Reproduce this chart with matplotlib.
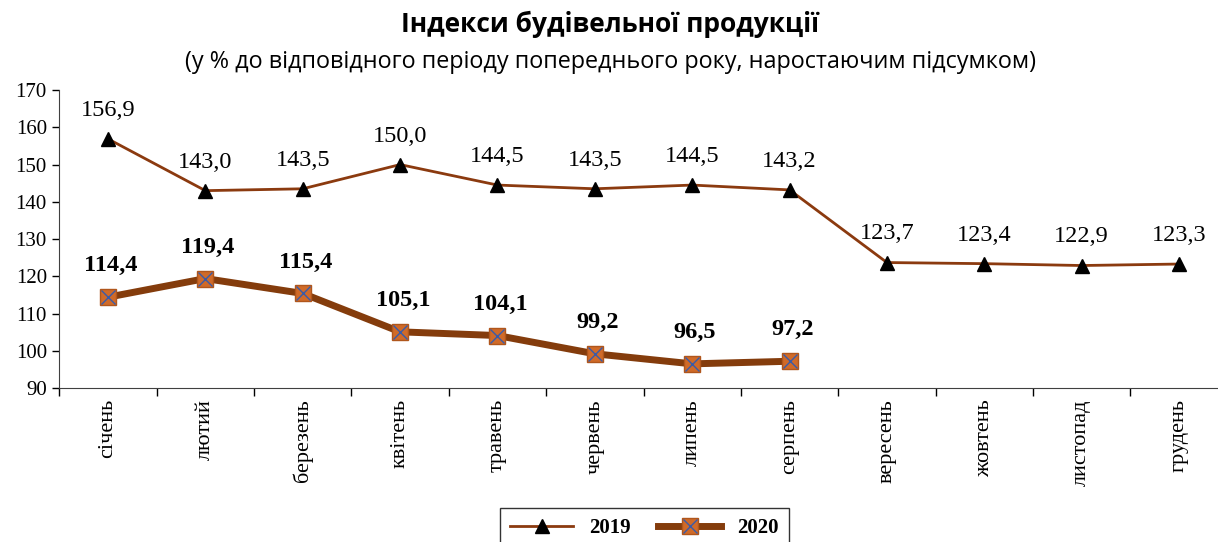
import matplotlib
matplotlib.use("Agg")
import matplotlib.pyplot as plt
from matplotlib.lines import Line2D

# дані
misyatsi = ['січень', 'лютий', 'березень', 'квітень', 'травень', 'червень',
            'липень', 'серпень', 'вересень', 'жовтень', 'листопад', 'грудень']
znach_2019 = [156.9, 143.0, 143.5, 150.0, 144.5, 143.5, 144.5, 143.2,
              123.7, 123.4, 122.9, 123.3]
znach_2020 = [114.4, 119.4, 115.4, 105.1, 104.1, 99.2, 96.5, 97.2]
y_ticks = [90, 100, 110, 120, 130, 140, 150, 160, 170]

serif = ['Liberation Serif', 'DejaVu Serif']
sans = ['Open Sans', 'DejaVu Sans']

fig = plt.figure(figsize=(12.18, 5.42), dpi=100)
ax = fig.add_axes([0.0487, 0.284, 0.9593, 0.5498])

x19 = list(range(len(znach_2019)))
x20 = list(range(len(znach_2020)))

ax.plot(x19, znach_2019, color='#8B3A0F', lw=2, marker='^', ms=10,
        mfc='black', mec='black', zorder=3)
ax.plot(x20, znach_2020, color='#843C0C', lw=5, zorder=3)
ax.plot(x20, znach_2020, ls='none', marker='s', ms=12, mfc='#D06A28',
        mec='#B0561C', mew=1, zorder=4)
ax.plot(x20, znach_2020, ls='none', marker='x', ms=10, mec='#3A5BA8',
        mew=1, zorder=5)

for x, v in zip(x19, znach_2019):
    ax.annotate(f'{v:.1f}'.replace('.', ','), (x, v), xytext=(0, 13),
                textcoords='offset points', ha='center', va='bottom',
                fontsize=17.5, family=serif)
for x, v in zip(x20, znach_2020):
    ax.annotate(f'{v:.1f}'.replace('.', ','), (x, v), xytext=(2, 15),
                textcoords='offset points', ha='center', va='bottom',
                fontsize=17.5, fontweight='bold', family=serif)

ax.set_xlim(-0.5, 11.5)
ax.set_ylim(90, 170)
ax.set_yticks(y_ticks)
ax.set_yticklabels([str(t) for t in y_ticks], fontsize=15, family=serif)
ax.tick_params(axis='y', direction='out', length=5, width=1, pad=4)

ax.set_xticks([i - 0.5 for i in range(13)])
ax.set_xticklabels([])
ax.set_xticks(x19, minor=True)
ax.set_xticklabels(misyatsi, minor=True, rotation=90, fontsize=16, family=serif)
ax.tick_params(axis='x', which='major', direction='out', length=6, width=1)
ax.tick_params(axis='x', which='minor', length=0, pad=8)

for s in ['top', 'right']:
    ax.spines[s].set_visible(False)
for s in ['left', 'bottom']:
    ax.spines[s].set_color('#404040')

fig.text(0.501, 0.955, 'Індекси будівельної продукції', ha='center',
         va='center', fontsize=19, fontweight='bold', family=sans)
fig.text(0.501, 0.885, '(у % до відповідного періоду попереднього року, наростаючим підсумком)',
         ha='center', va='center', fontsize=16.8, family=sans)

h19 = Line2D([], [], color='#8B3A0F', lw=2, marker='^', ms=10, mfc='black', mec='black')
h20 = (Line2D([], [], color='#843C0C', lw=5, marker='s', ms=12, mfc='#D06A28', mec='#B0561C'),
       Line2D([], [], ls='none', marker='x', ms=10, mec='#3A5BA8', mew=1))
leg = fig.legend([h19, h20], ['2019', '2020'], loc='upper left',
                 bbox_to_anchor=(500 / 1218, 1 - 508 / 542), borderaxespad=0,
                 ncol=2, frameon=True, fancybox=False, edgecolor='black',
                 prop={'family': serif, 'weight': 'bold', 'size': 15},
                 handlelength=3, columnspacing=1.3, borderpad=0.5)

fig.savefig('out.png', dpi=100)
